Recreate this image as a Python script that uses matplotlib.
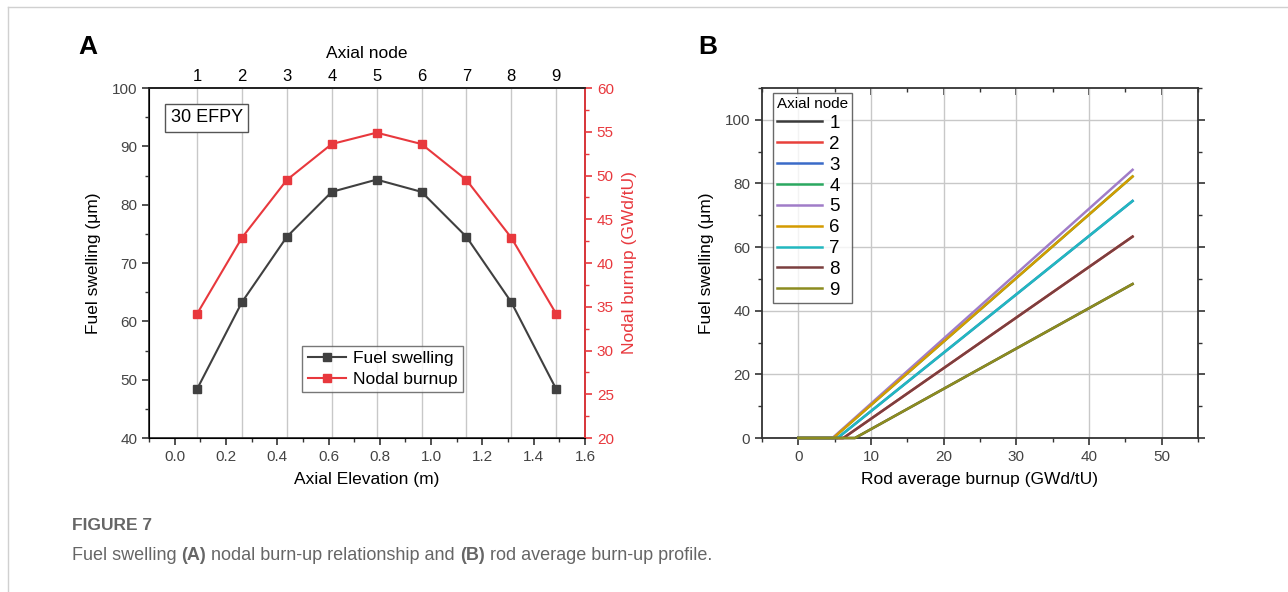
import numpy as np
import matplotlib
matplotlib.use("Agg")
import matplotlib.pyplot as plt
from matplotlib.ticker import MultipleLocator
from matplotlib.lines import Line2D

plt.rcParams['font.family'] = ['Liberation Sans', 'DejaVu Sans']

# ---------------- data ----------------
# panel A
elevation = [0.0875, 0.2625, 0.4375, 0.6125, 0.7875, 0.9625, 1.1375, 1.3125, 1.4875]
node_labels = ['1', '2', '3', '4', '5', '6', '7', '8', '9']
fuel_swelling = [48.4, 63.3, 74.5, 82.2, 84.3, 82.2, 74.5, 63.3, 48.4]
nodal_burnup = [34.2, 42.9, 49.5, 53.6, 54.9, 53.6, 49.5, 42.9, 34.2]

# panel B : swelling is zero until the onset burnup, then rises linearly
onset_burnup = [7.8, 6.2, 5.4, 4.8, 4.7, 4.8, 5.4, 6.2, 7.8]
end_burnup = [46.0] * 9
end_swelling = [48.4, 63.3, 74.5, 82.2, 84.3, 82.2, 74.5, 63.3, 48.4]
node_colors = ['#3a3a3a', '#e8403a', '#3a6bc8', '#2aa860', '#a07cc8',
               '#d49b00', '#22b8bf', '#7b3f3f', '#8c8c20']

grey = '#404040'
red = '#e8383d'
tick_col = '#444444'

fig = plt.figure(figsize=(12.88, 5.92), dpi=100)

# ---------------- panel A ----------------
axA = fig.add_axes([0.1157, 0.2601, 0.3385, 0.5912])
for x in elevation:
    axA.axvline(x, color='#c8c8c8', lw=1.0, zorder=0)
axA.plot(elevation, fuel_swelling, '-s', color=grey, ms=6, lw=1.5, label='Fuel swelling')
axA.set_xlim(-0.1, 1.6)
axA.set_ylim(40, 100)
axA.xaxis.set_major_locator(MultipleLocator(0.2))
axA.xaxis.set_minor_locator(MultipleLocator(0.1))
axA.yaxis.set_major_locator(MultipleLocator(10))
axA.yaxis.set_minor_locator(MultipleLocator(5))
axA.set_xlabel('Axial Elevation (m)', fontsize=12.5, labelpad=6)
axA.set_ylabel('Fuel swelling (μm)', fontsize=12.5, labelpad=8)
axA.tick_params(which='major', length=5, width=1.2, labelsize=11, labelcolor=tick_col, color='#333333')
axA.tick_params(which='minor', length=3, width=1.0, color='#333333')
for s in axA.spines.values():
    s.set_linewidth(1.3)
    s.set_color('#333333')

axR = axA.twinx()
axR.plot(elevation, nodal_burnup, '-s', color=red, ms=6, lw=1.5, label='Nodal burnup')
axR.set_ylim(20, 60)
axR.yaxis.set_major_locator(MultipleLocator(5))
axR.yaxis.set_minor_locator(MultipleLocator(2.5))
axR.set_ylabel('Nodal burnup (GWd/tU)', fontsize=12.5, color=red, labelpad=6)
axR.tick_params(axis='y', which='major', length=5, width=1.2, labelsize=11, colors=red)
axR.tick_params(axis='y', which='minor', length=3, width=1.0, colors=red)
axR.spines['right'].set_color(red)
axR.spines['right'].set_linewidth(1.3)
axR.spines['top'].set_linewidth(1.3)
axR.spines['top'].set_color('#222222')

axT = axA.twiny()
axT.set_xlim(axA.get_xlim())
axT.set_xticks(elevation)
axT.set_xticklabels(node_labels)
axT.tick_params(axis='x', length=0, labelsize=12, pad=3)
axT.set_xlabel('Axial node', fontsize=12.5, labelpad=8)
for s in axT.spines.values():
    s.set_visible(False)

axA.text(0.05, 0.915, '30 EFPY', transform=axA.transAxes, fontsize=13,
         ha='left', va='center', zorder=5,
         bbox=dict(boxstyle='square,pad=0.3', fc='white', ec='#555555', lw=1.0))

handles = [Line2D([], [], color=grey, marker='s', ms=6, lw=1.5),
           Line2D([], [], color=red, marker='s', ms=6, lw=1.5)]
leg = axR.legend(handles, ['Fuel swelling', 'Nodal burnup'], loc='lower left',
                 bbox_to_anchor=(0.352, 0.132), fontsize=12.5, frameon=True, fancybox=False,
                 edgecolor='#555555', handlelength=2.2, handletextpad=0.4,
                 labelspacing=0.3, borderpad=0.3, borderaxespad=0)
leg.get_frame().set_linewidth(1.0)

# ---------------- panel B ----------------
axB = fig.add_axes([0.5916, 0.2601, 0.3385, 0.5912])
for i in range(9):
    xs = [0.0, onset_burnup[i], end_burnup[i]]
    ys = [0.0, 0.0, end_swelling[i]]
    axB.plot(xs, ys, color=node_colors[i], lw=1.8, label=node_labels[i], zorder=3, clip_on=False)
axB.set_xlim(-5, 55)
axB.set_ylim(0, 110)
axB.xaxis.set_major_locator(MultipleLocator(10))
axB.xaxis.set_minor_locator(MultipleLocator(5))
axB.yaxis.set_major_locator(MultipleLocator(20))
axB.yaxis.set_minor_locator(MultipleLocator(10))
axB.grid(True, which='major', color='#c8c8c8', lw=1.0, zorder=0)
axB.set_axisbelow(True)
axB.tick_params(which='both', right=True, labelright=False)
axB.tick_params(which='major', length=5, width=1.2, labelsize=11, labelcolor=tick_col, color='#333333')
axB.tick_params(which='minor', length=3, width=1.0, color='#333333')
# top ticks point inward, bottom ticks outward: use a secondary axis for the top
secB = axB.secondary_xaxis('top')
secB.xaxis.set_major_locator(MultipleLocator(10))
secB.xaxis.set_minor_locator(MultipleLocator(5))
secB.tick_params(which='major', direction='in', length=5, width=1.2, labeltop=False, color='#333333')
secB.tick_params(which='minor', direction='in', length=3, width=1.0, color='#333333')
secB.spines['top'].set_visible(False)
for s in axB.spines.values():
    s.set_linewidth(1.3)
    s.set_color('#333333')
axB.set_xlabel('Rod average burnup (GWd/tU)', fontsize=12.5, labelpad=6)
axB.set_ylabel('Fuel swelling (μm)', fontsize=12.5, labelpad=8)
legB = axB.legend(loc='upper left', bbox_to_anchor=(0.025, 0.985), title='Axial node',
                  title_fontsize=11, fontsize=13.5, frameon=True, fancybox=False,
                  edgecolor='#444444', handlelength=2.4, handletextpad=0.4,
                  labelspacing=0.2, borderpad=0.2, borderaxespad=0)
legB.get_frame().set_linewidth(1.0)
legB._legend_box.align = 'left'

# panel letters
fig.text(88 / 1288, 1 - 47 / 592, 'A', fontsize=19, fontweight='bold', ha='center', va='center')
fig.text(708 / 1288, 1 - 47 / 592, 'B', fontsize=19, fontweight='bold', ha='center', va='center')

# caption, pieces placed one after another
cap_col = '#666666'
fig.text(72 / 1288, 1 - 526 / 592, 'FIGURE 7', fontsize=12.5, color=cap_col, ha='left',
         va='center', fontweight='bold')
pieces = [('Fuel swelling ', 'normal'), ('(A)', 'bold'),
          (' nodal burn-up relationship and ', 'normal'), ('(B)', 'bold'),
          (' rod average burn-up profile.', 'normal')]
renderer = fig.canvas.get_renderer()
xpos = 72
for txt, wt in pieces:
    t = fig.text(xpos / 1288, 1 - 556 / 592, txt, fontsize=13, color=cap_col,
                 ha='left', va='center', fontweight=wt)
    xpos += t.get_window_extent(renderer).width

# frame lines of the source page
fig.add_artist(Line2D([8 / 1288, 8 / 1288], [0, 1 - 7 / 592], transform=fig.transFigure,
                      color='#d0d0d0', lw=1.0))
fig.add_artist(Line2D([8 / 1288, 1], [1 - 7 / 592, 1 - 7 / 592], transform=fig.transFigure,
                      color='#d0d0d0', lw=1.0))

fig.savefig('out.png', dpi=100)
